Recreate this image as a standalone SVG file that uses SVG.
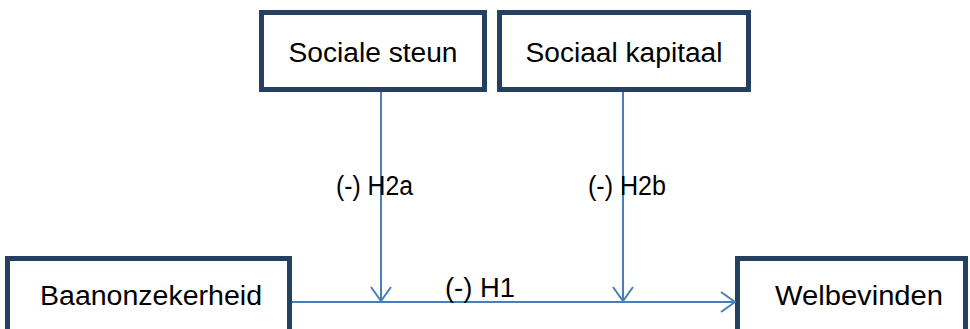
<svg xmlns="http://www.w3.org/2000/svg" width="970" height="329" viewBox="0 0 970 329">
<defs>
<style>
.box{fill:#ffffff;stroke:#243f60;stroke-width:5}
.lbl{font-family:"Liberation Sans","Open Sans",sans-serif;font-size:27px;fill:#000000}
.conn{stroke:#4a7ebb;stroke-width:2;fill:none}
</style>
<marker id="arr" viewBox="0 0 16 22" refX="15" refY="11" markerWidth="16" markerHeight="22" markerUnits="userSpaceOnUse" orient="auto">
<path d="M1,1 L15,11 L1,21" fill="none" stroke="#4a7ebb" stroke-width="2"/>
</marker>
</defs>
<g id="node-sociale-steun">
<rect class="box" x="261.5" y="12.5" width="223" height="77"/>
<text class="lbl" x="373" y="62" text-anchor="middle" textLength="169" lengthAdjust="spacingAndGlyphs">Sociale steun</text>
</g>
<g id="node-sociaal-kapitaal">
<rect class="box" x="499.5" y="12.5" width="249" height="77"/>
<text class="lbl" x="624" y="62" text-anchor="middle" textLength="197" lengthAdjust="spacingAndGlyphs">Sociaal kapitaal</text>
</g>
<g id="node-baanonzekerheid">
<rect class="box" x="7.5" y="258.5" width="282" height="80"/>
<text class="lbl" x="151" y="305" text-anchor="middle" textLength="222" lengthAdjust="spacingAndGlyphs">Baanonzekerheid</text>
</g>
<g id="node-welbevinden">
<rect class="box" x="737.5" y="258.5" width="228" height="80"/>
<text class="lbl" x="859" y="305" text-anchor="middle" textLength="168" lengthAdjust="spacingAndGlyphs">Welbevinden</text>
</g>
<g id="connectors">
<line class="conn" x1="292" y1="302" x2="735" y2="302" marker-end="url(#arr)"/>
<line class="conn" x1="381" y1="92" x2="381" y2="301" marker-end="url(#arr)"/>
<line class="conn" x1="623" y1="92" x2="623" y2="301" marker-end="url(#arr)"/>
<text class="lbl" x="336" y="195" textLength="77" lengthAdjust="spacingAndGlyphs">(-) H2a</text>
<text class="lbl" x="588" y="195" textLength="78" lengthAdjust="spacingAndGlyphs">(-) H2b</text>
<text class="lbl" x="445" y="297" textLength="70" lengthAdjust="spacingAndGlyphs">(-) H1</text>
</g>
</svg>
